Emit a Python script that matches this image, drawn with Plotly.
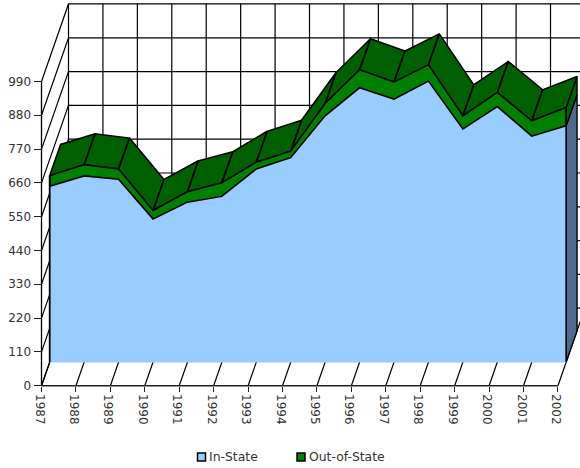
import plotly.graph_objects as go

years = list(range(1987, 2003))
in_state = [572, 605, 595, 465, 520, 539, 628, 665, 801, 892, 855, 914, 758, 831, 735, 769]
out_of_state = [35, 37, 33, 28, 34, 44, 22, 21, 40, 59, 56, 53, 43, 46, 50, 59]
y_ticks = list(range(0, 1100, 110))

W, H = 580, 468
X0, XSTEP = 41.5, 34.43
Y0, YSCALE = 385.7, 0.3073
px2x = lambda p: (p - X0) / XSTEP
px2y = lambda p: p / YSCALE
# oblique depth offsets (years, value units)
WALL = (px2x(X0 + 27), px2y(77.5))
FRONT = (px2x(X0 + 8.2), px2y(23.7))
FACE = (px2x(X0 + 10.9), px2y(31))

BLUE, GREEN, DGREEN, SLATE = "#99CCFF", "#007F00", "#005F00", "#4F6A8F"
TXT = "#333333"

fig = go.Figure()

def poly(xs, ys, fill=None, lw=1.0, lc="black"):
    fig.add_trace(go.Scatter(
        x=xs, y=ys, mode="lines", line=dict(color=lc, width=lw),
        fill="toself" if fill else None, fillcolor=fill,
        hoverinfo="skip", showlegend=False))

# --- walls and floor
ytop, yend = y_ticks[-1], years[-1]
gx, gy = [], []
for v in y_ticks:
    gx += [years[0], years[0] + WALL[0], yend + WALL[0], None]
    gy += [v, v + WALL[1], v + WALL[1], None]
for yr in years:
    gx += [yr, yr + WALL[0], yr + WALL[0], None]
    gy += [0, WALL[1], ytop + WALL[1], None]
poly(gx, gy, lw=1.2)
poly([years[0], years[0]], [0, ytop], lw=1.3)
poly([years[0], yend], [0, 0], lw=1.6, lc="#222222")

# --- stacked values on the front plane of the area slab
fx = [yr + FRONT[0] for yr in years]
base = FRONT[1]
low = [base + v for v in in_state]
top = [base + a + b for a, b in zip(in_state, out_of_state)]

# right-hand end faces
ex = fx[-1]
poly([ex, ex + FACE[0], ex + FACE[0], ex, ex],
     [base, base + FACE[1], low[-1] + FACE[1], low[-1], base], fill=SLATE, lw=1.4)
poly([ex, ex + FACE[0], ex + FACE[0], ex, ex],
     [low[-1], low[-1] + FACE[1], top[-1] + FACE[1], top[-1], low[-1]], fill=DGREEN, lw=1.4)

# top faces of the upper series
qx, qy = [], []
for i in range(len(years) - 1):
    qx += [fx[i], fx[i] + FACE[0], fx[i + 1] + FACE[0], fx[i + 1], fx[i], None]
    qy += [top[i], top[i] + FACE[1], top[i + 1] + FACE[1], top[i + 1], top[i], None]
poly(qx, qy, fill=DGREEN, lw=1.5)

# front faces
poly(fx + fx[::-1] + [fx[0]], top + low[::-1] + [top[0]], fill=GREEN, lw=1.5)
fig.add_trace(go.Scatter(
    x=[fx[0]] + fx + [fx[-1], fx[0]], y=[base] + low + [base, base], mode="lines",
    line=dict(color=BLUE, width=1), fill="toself", fillcolor=BLUE,
    hoverinfo="skip", showlegend=False))
poly(fx, low, lw=1.5)
poly([fx[0], fx[0]], [base, top[0]], lw=1.8)
poly([fx[-1], fx[-1]], [base, top[-1]], lw=1.6)

# --- legend
def swatch(x, col):
    fig.add_shape(type="rect", xref="paper", yref="paper",
                  x0=x / W, x1=(x + 8) / W, y0=1 - 461 / H, y1=1 - 453 / H,
                  fillcolor=col, line=dict(color="black", width=1.5))
swatch(197.5, BLUE)
swatch(297, GREEN)
for xp, label in [(209.5, "In-State"), (308.5, "Out-of-State")]:
    fig.add_annotation(x=xp / W, y=1 - 456.5 / H, xref="paper", yref="paper",
                       text=label, showarrow=False, xanchor="left", yanchor="middle",
                       xshift=-2, font=dict(family="DejaVu Sans", size=12.4, color=TXT))

fig.update_layout(
    width=W, height=H, margin=dict(l=0, r=0, t=0, b=0),
    paper_bgcolor="white", plot_bgcolor="white", showlegend=False,
    font=dict(family="DejaVu Sans", size=12, color=TXT),
    xaxis=dict(range=[years[0] + px2x(0), years[0] + px2x(W)],
               anchor="free", position=(H - Y0) / H,
               tickmode="array", tickvals=years, ticktext=[str(y) for y in years],
               tickangle=90, ticks="outside", ticklen=5, tickcolor="#222222",
               ticklabelshift=-2,
               showgrid=False, zeroline=False, showline=False, fixedrange=True),
    yaxis=dict(range=[px2y(Y0 - H), px2y(Y0)],
               anchor="free", position=X0 / W,
               tickmode="array", tickvals=y_ticks, ticktext=[str(v) for v in y_ticks],
               ticks="outside", ticklen=8, tickcolor="#222222",
               showgrid=False, zeroline=False, showline=False, fixedrange=True),
)

fig.write_html("out.html", config={"displayModeBar": False},
               post_script="document.body.style.margin='0';document.documentElement.style.overflow='hidden';")
